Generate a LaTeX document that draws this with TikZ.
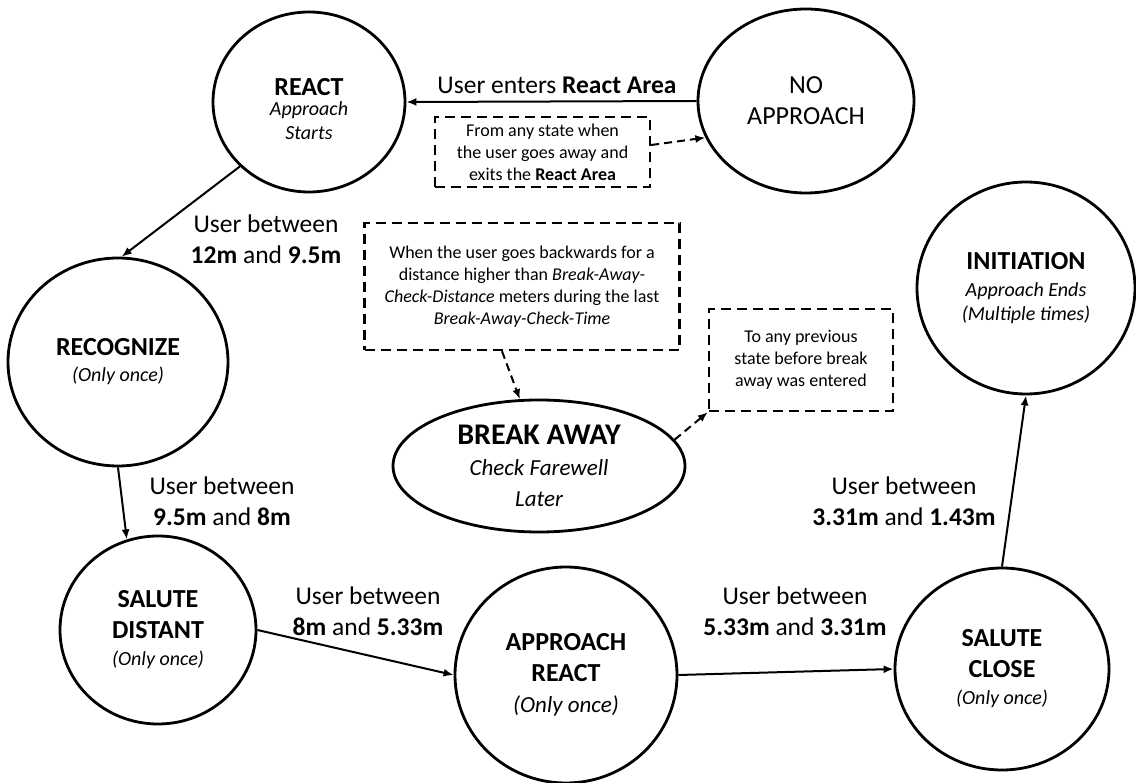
\documentclass[tikz,border=0pt]{standalone}
\usepackage{fontspec}
\setmainfont{Carlito}
\usetikzlibrary{shapes.geometric,arrows.meta}
% italic subtitle line inside a state
\newcommand\stxt[1]{{\fontsize{20}{24}\selectfont\itshape #1}}
\begin{document}
\begin{tikzpicture}[x=1pt,y=-1pt,
  state/.style={ellipse,draw,line width=2.8pt,inner sep=0pt,align=center,
    font=\fontsize{26}{31}\selectfont},
  note/.style={draw,dash pattern=on 10pt off 6pt,line width=2.4pt,inner sep=0pt,
    align=center,font=\fontsize{18}{22}\selectfont},
  elabel/.style={align=center,font=\fontsize{25.5}{31}\selectfont},
  trans/.style={line width=2pt,-{Latex[length=10pt,width=8pt]}},
  dtrans/.style={trans,dash pattern=on 8pt off 5pt}]
\useasboundingbox (0,0) rectangle (1136,783);

% states
\node[state,minimum width=192pt,minimum height=180pt] (react) at (309,102)
  {\strut\\[-22pt]\textbf{REACT}\\[-11pt]\stxt{Approach}\\[-7pt]\stxt{Starts}};
\node[state,minimum width=216pt,minimum height=184pt] (noapp) at (806,101)
  {NO\\APPROACH};
\node[state,minimum width=220pt,minimum height=208pt] (recog) at (118,362)
  {\textbf{RECOGNIZE}\\[-5pt]\stxt{(Only once)}};
\node[state,minimum width=196pt,minimum height=188pt] (saldist) at (158,630)
  {\textbf{SALUTE}\\\textbf{DISTANT}\\[-4pt]\stxt{(Only once)}};
\node[state,minimum width=222pt,minimum height=216pt] (appreact) at (566,675)
  {\textbf{APPROACH}\\\textbf{REACT}\\{\fontsize{23}{28}\selectfont\itshape (Only once)}};
\node[state,minimum width=214pt,minimum height=202pt] (salclose) at (1002,669)
  {\textbf{SALUTE}\\\textbf{CLOSE}\\[-4pt]\stxt{(Only once)}};
\node[state,minimum width=218pt,minimum height=212pt] (init) at (1026,288)
  {\textbf{INITIATION}\\[-4pt]\stxt{Approach Ends}\\[-7pt]\stxt{(Multiple times)}};
\node[state,minimum width=292pt,minimum height=132pt] (brk) at (539,466)
  {{\fontsize{30}{34}\selectfont\bfseries BREAK AWAY}\\
   {\fontsize{23}{29}\selectfont\itshape Check Farewell}\\
   {\fontsize{23}{29}\selectfont\itshape Later}};

% dashed notes
\node[note,minimum width=215pt,minimum height=70pt] (n1) at (542.5,152)
  {From any state when\\the user goes away and\\exits the \textbf{React Area}};
\node[note,minimum width=315pt,minimum height=127pt] (n2) at (522,286.5)
  {When the user goes backwards for a\\distance higher than \textit{Break-Away-}\\
   \textit{Check-Distance} meters during the last\\\textit{Break-Away-Check-Time}};
\node[note,minimum width=184pt,minimum height=102pt] (n3) at (801,360)
  {To any previous\\state before break\\away was entered};

% transition labels
\node[elabel] (l0) at (557,85) {User enters \textbf{React Area}};
\node[elabel] (l1) at (266,239) {User between\\\textbf{12m} and \textbf{9.5m}};
\node[elabel] (l2) at (222,501) {User between\\\textbf{9.5m} and \textbf{8m}};
\node[elabel] (l3) at (368,611) {User between\\\textbf{8m} and \textbf{5.33m}};
\node[elabel] (l4) at (795,611) {User between\\\textbf{5.33m} and \textbf{3.31m}};
\node[elabel] (l5) at (904,501) {User between\\\textbf{3.31m} and \textbf{1.43m}};

% transitions
\draw[trans] (noapp.west) -- (react.east);
\draw[dtrans] ([yshift=7pt]n1.east) -- (noapp.200);
\draw[trans] (react.223) -- (recog.88);
\draw[trans] (recog.south) -- (saldist.109);
\draw[trans] (saldist.east) -- (appreact.west);
\draw[trans] (appreact.east) -- (salclose.west);
\draw[trans] (salclose.north) -- (init.south);
\draw[dtrans] ([xshift=-20pt]n2.south) -- (brk.106);
\draw[dtrans] (brk.11) -- (n3.south west);
\end{tikzpicture}
\end{document}
